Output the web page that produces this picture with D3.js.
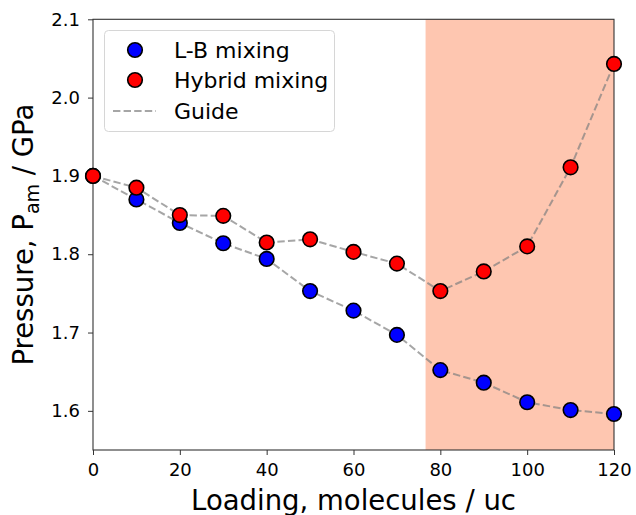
<!DOCTYPE html>
<html>
<head>
<meta charset="utf-8">
<script src="https://cdn.jsdelivr.net/npm/d3@7"></script>
<style>
  html, body { margin: 0; padding: 0; background: #fff; }
  svg { display: block; font-family: "DejaVu Sans", sans-serif; }
</style>
</head>
<body>
<svg id="chart" width="636" height="515"></svg>
<script>
// ---- data ----
const loading = [0, 10, 20, 30, 40, 50, 60, 70, 80, 90, 100, 110, 120];
const lbMixing = [1.900, 1.870, 1.840, 1.814, 1.794, 1.753, 1.728, 1.697, 1.652, 1.636, 1.611, 1.601, 1.596];
const hybridMixing = [1.900, 1.885, 1.850, 1.849, 1.815, 1.819, 1.803, 1.788, 1.753, 1.778, 1.810, 1.911, 2.043];
const xTicks = [0, 20, 40, 60, 80, 100, 120];
const yTicks = [1.6, 1.7, 1.8, 1.9, 2.0, 2.1];
const shadedRange = [76.6, 120];
const seriesNames = ["L-B mixing", "Hybrid mixing", "Guide"];

// ---- layout ----
const svg = d3.select("#chart");
const pLeft = 93, pRight = 614, pTop = 19.3, pBottom = 450;
const x = d3.scaleLinear().domain([0, 120]).range([pLeft, pRight]);
const y = d3.scaleLinear().domain([1.55, 2.1]).range([pBottom, pTop]);

// shaded region
svg.append("rect")
  .attr("x", x(shadedRange[0]))
  .attr("y", pTop)
  .attr("width", x(shadedRange[1]) - x(shadedRange[0]))
  .attr("height", pBottom - pTop)
  .attr("fill", "#fec6b0");

// guide lines
const line = d3.line().x(d => x(d[0])).y(d => y(d[1]));
[lbMixing, hybridMixing].forEach(vals => {
  svg.append("path")
    .datum(loading.map((l, i) => [l, vals[i]]))
    .attr("d", line)
    .attr("fill", "none")
    .attr("stroke", "gray")
    .attr("stroke-opacity", 0.7)
    .attr("stroke-width", 2)
    .attr("stroke-dasharray", "7.4,3.2");
});

// axes frame
const xAxis = svg.append("g").attr("transform", `translate(0,${pBottom})`)
  .call(d3.axisBottom(x).tickValues(xTicks).tickFormat(d3.format("d")).tickSize(5).tickPadding(8));
const yAxis = svg.append("g").attr("transform", `translate(${pLeft},0)`)
  .call(d3.axisLeft(y).tickValues(yTicks).tickFormat(d3.format(".1f")).tickSize(5).tickPadding(8));
[xAxis, yAxis].forEach(g => {
  g.select(".domain").remove();
  g.selectAll(".tick line").attr("stroke", "#333").attr("stroke-width", 1);
  g.selectAll(".tick text").attr("font-size", 18).attr("fill", "#000")
    .attr("font-family", "DejaVu Sans");
});
svg.append("rect")
  .attr("x", pLeft).attr("y", pTop)
  .attr("width", pRight - pLeft).attr("height", pBottom - pTop)
  .attr("fill", "none").attr("stroke", "#333").attr("stroke-width", 1.1);

// markers
function drawMarkers(vals, color) {
  svg.append("g").selectAll("circle")
    .data(loading.map((l, i) => [l, vals[i]]))
    .join("circle")
    .attr("cx", d => x(d[0]))
    .attr("cy", d => y(d[1]))
    .attr("r", 7.3)
    .attr("fill", color)
    .attr("stroke", "#000")
    .attr("stroke-width", 1.6);
}
drawMarkers(lbMixing, "#0000ff");
drawMarkers(hybridMixing, "#ff0000");

// axis labels
svg.append("text")
  .attr("x", (pLeft + pRight) / 2).attr("y", 510)
  .attr("text-anchor", "middle")
  .attr("font-size", 27.5)
  .text("Loading, molecules / uc");

const yl = svg.append("text")
  .attr("transform", `translate(33,${(pTop + pBottom) / 2}) rotate(-90)`)
  .attr("text-anchor", "middle")
  .attr("font-size", 27.5);
yl.append("tspan").text("Pressure, P");
yl.append("tspan").attr("font-size", 19).attr("dy", 6).text("am");
yl.append("tspan").attr("dy", -6).text(" / GPa");

// legend
const lg = svg.append("g");
lg.append("rect")
  .attr("x", 104.5).attr("y", 30.5).attr("width", 230).attr("height", 101)
  .attr("rx", 4).attr("fill", "#fff").attr("fill-opacity", 0.8)
  .attr("stroke", "#d6d6d6").attr("stroke-width", 1);
const ly = [50, 80, 111];
lg.append("circle").attr("cx", 135).attr("cy", ly[0]).attr("r", 7.3)
  .attr("fill", "#0000ff").attr("stroke", "#000").attr("stroke-width", 1.6);
lg.append("circle").attr("cx", 135).attr("cy", ly[1]).attr("r", 7.3)
  .attr("fill", "#ff0000").attr("stroke", "#000").attr("stroke-width", 1.6);
lg.append("line").attr("x1", 113).attr("x2", 156).attr("y1", ly[2]).attr("y2", ly[2])
  .attr("stroke", "gray").attr("stroke-opacity", 0.7).attr("stroke-width", 2)
  .attr("stroke-dasharray", "7.4,3.2");
seriesNames.forEach((name, i) => {
  lg.append("text")
    .attr("x", 174).attr("y", ly[i] + 8)
    .attr("font-size", 22)
    .text(name);
});
</script>
</body>
</html>
